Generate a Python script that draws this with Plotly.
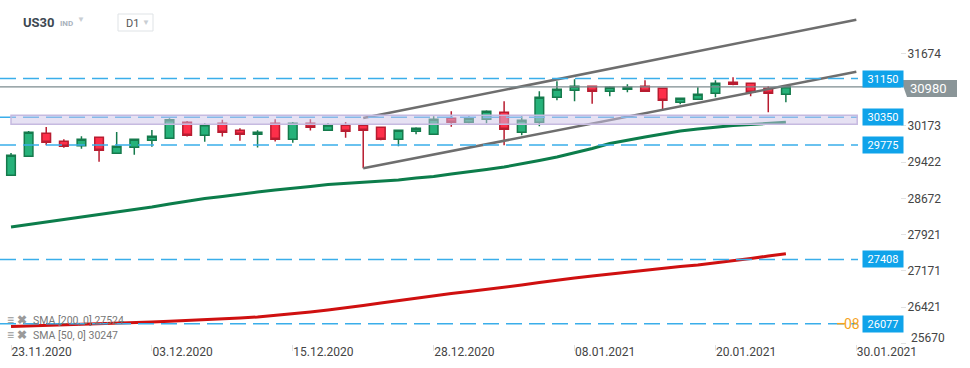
import plotly.graph_objects as go

# ---------------- data ----------------
dates = ["23.11.2020", "24.11.2020", "25.11.2020", "26.11.2020", "27.11.2020", "30.11.2020",
         "01.12.2020", "02.12.2020", "03.12.2020", "04.12.2020", "07.12.2020", "08.12.2020",
         "09.12.2020", "10.12.2020", "11.12.2020", "14.12.2020", "15.12.2020", "16.12.2020",
         "17.12.2020", "18.12.2020", "21.12.2020", "22.12.2020", "23.12.2020", "24.12.2020",
         "28.12.2020", "29.12.2020", "30.12.2020", "31.12.2020", "04.01.2021", "05.01.2021",
         "06.01.2021", "07.01.2021", "08.01.2021", "11.01.2021", "12.01.2021", "13.01.2021",
         "14.01.2021", "15.01.2021", "18.01.2021", "19.01.2021", "20.01.2021", "21.01.2021",
         "22.01.2021", "25.01.2021", "26.01.2021"]

opens = [29149, 29542, 30018, 29852, 29761, 29935, 29604, 29728, 29873, 29914,
         30246, 29976, 30225, 30080, 29997, 30225, 29894, 30225, 30080, 30187,
         30187, 30142, 29894, 30059, 29997, 30329, 30246, 30308, 30453, 30039,
         30246, 30763, 30908, 30991, 30887, 30929, 30991, 30950, 30660, 30722,
         30846, 31074, 31053, 30950, 30825]
highs = [29610, 30066, 30148, 29894, 29956, 29941, 30045, 29900, 30086, 30330,
         30272, 30228, 30300, 30121, 30080, 30308, 30252, 30310, 30231, 30252,
         30211, 30148, 30086, 30142, 30370, 30473, 30370, 30494, 30680, 30370,
         30887, 31094, 31136, 30997, 30991, 31032, 31115, 30956, 30749, 30970,
         31115, 31177, 31060, 30991, 30986]
lows = [29140, 29535, 29770, 29720, 29699, 29430, 29598, 29575, 29741, 29905,
        29951, 29844, 29951, 29865, 29724, 29848, 29823, 30075, 30066, 29927,
        29293, 29873, 29749, 29997, 29990, 30155, 30225, 30225, 29770, 29977,
        30163, 30701, 30680, 30631, 30784, 30867, 30883, 30494, 30618, 30718,
        30763, 31012, 30784, 30453, 30660]
closes = [29563, 30039, 29832, 29749, 29894, 29666, 29749, 29894, 29956, 30300,
          29980, 30193, 30039, 29997, 30039, 29894, 30225, 30142, 30190, 30063,
          30080, 29894, 30080, 30121, 30308, 30246, 30329, 30474, 30101, 30287,
          30763, 30929, 30991, 30887, 30970, 30970, 30887, 30701, 30742, 30825,
          31053, 31032, 30867, 30846, 30980]

sma50 = [28078, 28130, 28172, 28234, 28285, 28337, 28389, 28441, 28492, 28555,
         28617, 28668, 28710, 28762, 28803, 28844, 28875, 28917, 28958, 28979,
         29000, 29020, 29051, 29093, 29124, 29176, 29217, 29269, 29320, 29383,
         29455, 29527, 29610, 29703, 29807, 29879, 29941, 30004, 30066, 30107,
         30148, 30180, 30200, 30221, 30247]
sma200 = [26019, 26029, 26040, 26050, 26060, 26071, 26085, 26097, 26112, 26129,
          26143, 26160, 26178, 26195, 26215, 26247, 26278, 26319, 26360, 26402,
          26454, 26505, 26557, 26609, 26661, 26702, 26743, 26785, 26826, 26878,
          26930, 26981, 27023, 27064, 27106, 27147, 27188, 27230, 27261, 27292,
          27333, 27375, 27426, 27478, 27524]

channel_x = [20, 48]
channel_upper = [30335, 32370]
channel_lower = [29293, 31290]

levels = [31150, 30350, 29775, 27408, 26077]
band = [30204, 30390]
current_price = 30980

ytick_vals = [25670, 26421, 27171, 27921, 28672, 29422, 30173, 31674]
xtick_idx = [0, 8, 16, 24, 32, 40, 48]
xtick_text = ["23.11.2020", "03.12.2020", "15.12.2020", "28.12.2020", "08.01.2021", "20.01.2021", "30.01.2021"]

# ---------------- layout constants ----------------
W, H = 970, 368
PLOT_W, PLOT_H = 900, 344
YR = [25656.5, 32777.3]
XR = [-0.625, 50.48]
FONT = "Roboto, 'Open Sans', Arial, sans-serif"


def px(X):
    return X / PLOT_W


def py(Y):
    return 1 - Y / PLOT_H


idx = list(range(len(dates)))

fig = go.Figure()

fig.add_trace(go.Candlestick(
    x=idx, open=opens, high=highs, low=lows, close=closes,
    increasing=dict(line=dict(color="#157a4c", width=1.5), fillcolor="#26b27a"),
    decreasing=dict(line=dict(color="#b81c30", width=1.5), fillcolor="#fe2f4a"),
    whiskerwidth=0, hoverinfo="skip", showlegend=False,
))

fig.add_trace(go.Scatter(x=idx, y=sma200, mode="lines",
                         line=dict(color="#cf1010", width=3), hoverinfo="skip", showlegend=False))
fig.add_trace(go.Scatter(x=idx, y=sma50, mode="lines",
                         line=dict(color="#0c7d4b", width=3), hoverinfo="skip", showlegend=False))

for ch in (channel_upper, channel_lower):
    fig.add_trace(go.Scatter(x=channel_x, y=ch, mode="lines",
                             line=dict(color="#6e6e6e", width=2.5), hoverinfo="skip", showlegend=False))

shapes = []
# horizontal dashed levels
for lv in levels:
    shapes.append(dict(type="line", xref="paper", yref="y", x0=0, x1=px(858), y0=lv, y1=lv,
                       line=dict(color="#3aaeea", width=1.5, dash="16px,7px"), layer="above"))
# current price line
shapes.append(dict(type="line", xref="paper", yref="y", x0=0, x1=px(901), y0=current_price, y1=current_price,
                   line=dict(color="#7d8b8f", width=1.2), layer="above"))
# shaded band
shapes.append(dict(type="rect", xref="x", yref="y", x0=0, x1=48.05, y0=band[0], y1=band[1],
                   fillcolor="rgba(205,195,231,0.5)", line=dict(color="#c6bae0", width=1.5), layer="above"))
# orange small line
shapes.append(dict(type="line", xref="paper", yref="y", x0=px(837), x1=px(845), y0=26077, y1=26077,
                   line=dict(color="#f5a31d", width=1.5), layer="above"))
# gray current price box with pointer
pts = [(901, 80), (957, 80), (957, 97), (907, 97)]
path = "M " + " L ".join(f"{px(a):.5f},{py(b):.5f}" for a, b in pts) + " Z"
shapes.append(dict(type="path", xref="paper", yref="paper", path=path,
                   fillcolor="#8a9598", line=dict(width=0), layer="above"))
# D1 box
shapes.append(dict(type="rect", xref="paper", yref="paper", x0=px(118), x1=px(153), y0=py(31), y1=py(14),
                   fillcolor="white", line=dict(color="#dfe3e6", width=1), layer="above"))

annotations = []
for lv in levels:
    annotations.append(dict(xref="paper", yref="y", x=px(862), y=lv, xanchor="left", yanchor="middle",
                            text=str(lv), showarrow=False, bgcolor="#0fa3ea", width=38, height=14,
                            borderpad=1, font=dict(color="white", size=11, family=FONT)))
annotations.append(dict(xref="paper", yref="paper", x=px(928), y=py(88.5), xanchor="center", yanchor="middle",
                        text=str(current_price), showarrow=False,
                        font=dict(color="white", size=13, family=FONT)))
annotations.append(dict(xref="paper", yref="y", x=px(852), y=26077, xanchor="center", yanchor="middle",
                        text="08", showarrow=False, font=dict(color="#f5a31d", size=14, family=FONT)))
# lowest price-axis label sits clamped just above the bottom edge
annotations.append(dict(xref="paper", yref="paper", x=px(909), y=py(338), xanchor="left", yanchor="middle",
                        text=str(ytick_vals[0]), showarrow=False, font=dict(color="#444", size=12, family=FONT)))
# header
annotations.append(dict(xref="paper", yref="paper", x=px(21), y=py(22), xanchor="left", yanchor="middle",
                        text="<b>US30</b>", showarrow=False, font=dict(color="#3d4852", size=13, family=FONT)))
annotations.append(dict(xref="paper", yref="paper", x=px(58), y=py(23), xanchor="left", yanchor="middle",
                        text="<b>IND</b>", showarrow=False, font=dict(color="#a9b3bd", size=8, family=FONT)))
annotations.append(dict(xref="paper", yref="paper", x=px(81), y=py(20), xanchor="center", yanchor="middle",
                        text="▼", showarrow=False, font=dict(color="#c9ced3", size=8, family=FONT)))
annotations.append(dict(xref="paper", yref="paper", x=px(124), y=py(23), xanchor="left", yanchor="middle",
                        text="D1", showarrow=False, font=dict(color="#555", size=11, family=FONT)))
annotations.append(dict(xref="paper", yref="paper", x=px(146), y=py(22), xanchor="center", yanchor="middle",
                        text="▼", showarrow=False, font=dict(color="#c9ced3", size=8, family=FONT)))
# SMA legend
legend_rows = [(f"SMA [200, 0] {sma200[-1]}", 320), (f"SMA [50, 0] {sma50[-1]}", 335)]
for txt, Y in legend_rows:
    annotations.append(dict(xref="paper", yref="paper", x=px(5), y=py(Y), xanchor="left", yanchor="middle",
                            text="<b>≡ ✖</b>", showarrow=False, font=dict(color="#9a9a9a", size=12, family=FONT)))
    annotations.append(dict(xref="paper", yref="paper", x=px(31), y=py(Y), xanchor="left", yanchor="middle",
                            text=txt, showarrow=False, font=dict(color="#777", size=10.5, family=FONT)))

fig.update_layout(
    width=W, height=H,
    margin=dict(l=0, r=W - PLOT_W, t=0, b=H - PLOT_H),
    paper_bgcolor="white", plot_bgcolor="white",
    showlegend=False,
    shapes=shapes, annotations=annotations,
    font=dict(family=FONT),
    hovermode=False,
)
fig.update_xaxes(range=XR, showgrid=False, zeroline=False, showline=False,
                 rangeslider=dict(visible=False),
                 tickmode="array", tickvals=xtick_idx, ticktext=xtick_text,
                 ticks="outside", ticklen=6, tickcolor="#e2e2e2",
                 ticklabelposition="outside right", ticklabelstandoff=-3,
                 tickfont=dict(size=12, color="#444", family=FONT))
fig.update_yaxes(range=YR, side="right", showgrid=False, zeroline=False, showline=False,
                 tickmode="array", tickvals=ytick_vals,
                 ticktext=[""] + [str(v) for v in ytick_vals[1:]],
                 ticks="outside", ticklen=5, tickcolor="#e2e2e2", ticklabelstandoff=-1,
                 tickfont=dict(size=12, color="#444", family=FONT))

fig.write_html("out.html", config={"displayModeBar": False},
               post_script="document.body.style.margin='0';document.body.style.overflow='hidden';")
